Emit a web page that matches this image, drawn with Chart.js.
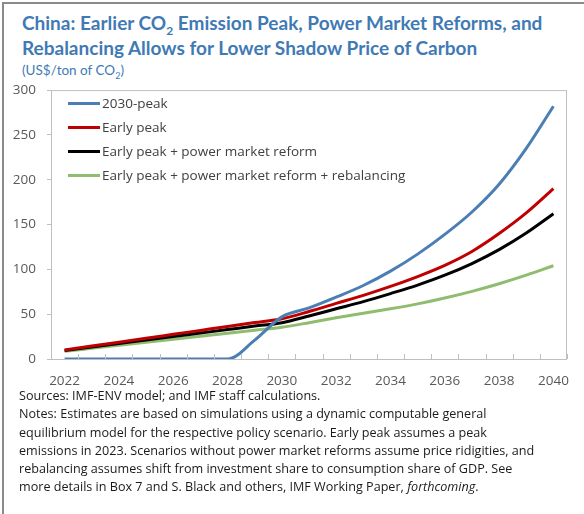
<!DOCTYPE html>
<html>
<head>
<meta charset="utf-8">
<script src="https://cdn.jsdelivr.net/npm/chart.js@4.4.1/dist/chart.umd.min.js"></script>
<style>
  html, body { margin: 0; padding: 0; background: #fff; }
  body { width: 584px; height: 514px; position: relative; overflow: hidden; font-family: 'Open Sans', sans-serif; }
  #frame { position: absolute; left: 2px; top: 2px; right: -4px; bottom: -4px; border-left: 2px solid #8a8a8a; border-top: 2px solid #8a8a8a; }
  #title { position: absolute; left: 22px; top: 10px; color: #3f7ab5; font-family: Lato, sans-serif; font-weight: bold; font-size: 19px; line-height: 25px; white-space: nowrap; }
  #unit { position: absolute; left: 22px; top: 62px; color: #3f7ab5; font-family: Lato, sans-serif; font-size: 13.5px; white-space: nowrap; }
  #wrap { position: absolute; left: 0; top: 71px; width: 584px; height: 324px; }
  #legend { position: absolute; left: 68px; top: 91px; font-size: 13.5px; color: #404040; }
  #legend div { height: 24px; line-height: 24px; white-space: nowrap; }
  #legend span.sw { display: inline-block; width: 32px; height: 3px; vertical-align: middle; margin-right: 2px; margin-top: -2px; }
  #notes { position: absolute; left: 19px; top: 387px; font-size: 12.6px; line-height: 18.3px; color: #1a1a1a; white-space: nowrap; }
</style>
</head>
<body>
<div id="frame"></div>
<div id="title">China: Earlier CO<sub style="font-size:12px;line-height:0">2</sub> Emission Peak, Power Market Reforms, and<br>Rebalancing Allows for Lower Shadow Price of Carbon</div>
<div id="unit">(US$/ton of CO<sub style="font-size:9px;line-height:0">2</sub>)</div>
<div id="wrap"><canvas id="canvas"></canvas></div>
<div id="legend"></div>
<div id="notes">Sources: IMF-ENV model; and IMF staff calculations.<br>
Notes: Estimates are based on simulations using a dynamic computable general<br>
equilibrium model for the respective policy scenario. Early peak assumes a peak<br>
emissions in 2023. Scenarios without power market reforms assume price ridigities, and<br>
rebalancing assumes shift from investment share to consumption share of GDP. See<br>
more details in Box 7 and S. Black and others, IMF Working Paper, <i>forthcoming</i>.</div>
<script>
var years = ['2022','2023','2024','2025','2026','2027','2028','2029','2030','2031','2032','2033','2034','2035','2036','2037','2038','2039','2040'];
var seriesNames = ['2030-peak', 'Early peak', 'Early peak + power market reform', 'Early peak + power market reform + rebalancing'];
var peak2030 = [0, 0, 0, 0, 0, 0, 0, 21, 47, 57, 69, 82, 98, 117, 139, 164, 195, 235, 282];
var earlyPeak = [10, 14.4, 18.8, 23.1, 27.5, 31.9, 36.3, 40.6, 45, 53, 62, 71, 81, 92, 104.5, 120, 140, 163, 190];
var earlyReform = [9.5, 13.4, 17.3, 21.2, 25, 28.9, 32.8, 36.7, 40.5, 48, 56, 64, 73, 82.5, 93.5, 106.5, 122, 140.5, 162];
var earlyReformRebal = [8.5, 11.9, 15.3, 18.7, 22, 25.4, 28.8, 32.2, 35.5, 40.5, 46, 51, 56, 61.5, 68, 75.5, 84, 93.5, 104];
var yTicks = [0, 50, 100, 150, 200, 250, 300];
var colors = ['#4a7eb4', '#c00000', '#000000', '#8fbc6e'];

var allData = [peak2030, earlyPeak, earlyReform, earlyReformRebal];
var datasets = [];
for (var i = 0; i < allData.length; i++) {
    datasets.push({
        label: seriesNames[i],
        data: allData[i],
        borderColor: colors[i],
        backgroundColor: colors[i],
        borderWidth: 3,
        pointRadius: 0,
        cubicInterpolationMode: 'monotone',
        fill: false
    });
}

// legend sits inside the plot, so build it in html
var legend = document.getElementById('legend');
seriesNames.forEach(function(name, i) {
    var row = document.createElement('div');
    row.innerHTML = '<span class="sw" style="background:' + colors[i] + '"></span>' + name;
    legend.appendChild(row);
});

// plot box + small inward ticks on the x axis
var frameBox = {
    id: 'frameBox',
    afterDraw: function(chart) {
        var ctx = chart.ctx;
        var a = chart.chartArea;
        var xs = chart.scales.x;
        ctx.save();
        ctx.strokeStyle = '#bfbfbf';
        ctx.lineWidth = 1;
        ctx.strokeRect(a.left + 0.5, a.top + 0.5, a.right - a.left - 1, a.bottom - a.top);
        var step = xs.getPixelForValue(1) - xs.getPixelForValue(0);
        ctx.beginPath();
        for (var k = 0; k <= years.length; k++) {
            var px = Math.round(xs.getPixelForValue(k) - step / 2) + 0.5;
            ctx.moveTo(px, a.bottom);
            ctx.lineTo(px, a.bottom - 5);
        }
        ctx.stroke();
        ctx.restore();
    }
};

var ctx = document.getElementById('canvas').getContext('2d');
window.myChart = new Chart(ctx, {
    type: 'line',
    data: { labels: years, datasets: datasets },
    plugins: [frameBox],
    options: {
        responsive: true,
        maintainAspectRatio: false,
        animation: false,
        layout: { padding: { top: 0, right: 17, left: 0, bottom: 0 } },
        plugins: { legend: { display: false }, tooltip: { enabled: false } },
        scales: {
            x: {
                offset: true,
                grid: { display: false, drawTicks: false },
                border: { display: false },
                ticks: {
                    autoSkip: false,
                    maxRotation: 0,
                    padding: 14,
                    color: '#595959',
                    font: { family: "'Open Sans', sans-serif", size: 13.5 },
                    callback: function(v, idx) { return idx % 2 === 0 ? years[idx] : ''; }
                },
                afterFit: function(s) { s.height = 36; }
            },
            y: {
                min: 0,
                max: 300,
                afterBuildTicks: function(s) { s.ticks = yTicks.map(function(v) { return { value: v }; }); },
                grid: { drawOnChartArea: false, tickLength: 4, color: '#bfbfbf' },
                border: { display: false },
                ticks: {
                    padding: 11,
                    color: '#595959',
                    font: { family: "'Open Sans', sans-serif", size: 13.5 }
                },
                afterFit: function(s) { s.width = 51; }
            }
        }
    }
});
</script>
</body>
</html>
